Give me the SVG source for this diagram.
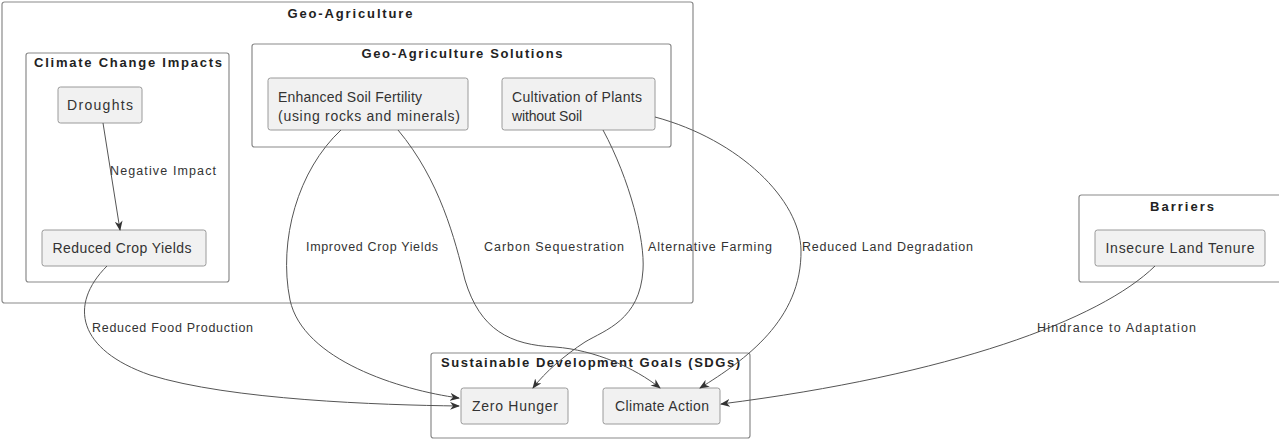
<svg xmlns="http://www.w3.org/2000/svg" width="1279" height="440" viewBox="0 0 1279 440">
<style>
.cl{fill:none;stroke:#8a8a8a;stroke-width:1.2}
.nd{fill:#f1f1f1;stroke:#9a9a9a;stroke-width:1}
.ct{font-family:"Liberation Sans",Arial,sans-serif;font-size:13px;font-weight:bold;fill:#222}
.nt{font-family:"Liberation Sans",Arial,sans-serif;font-size:14px;fill:#333}
.lt{font-family:"Liberation Sans",Arial,sans-serif;font-size:12.5px;fill:#333}
.ed{fill:none;stroke:#555;stroke-width:1}
</style>
<defs>
<marker id="ah" viewBox="0 0 10 8" refX="9" refY="4" markerWidth="10" markerHeight="8" markerUnits="userSpaceOnUse" orient="auto">
<path d="M0,0 L10,4 L0,8 L3,4 z" fill="#333"/>
</marker>
</defs>
<rect width="1279" height="440" fill="#fff"/>

<g id="geo-agriculture">
<rect class="cl" x="2" y="2" width="691" height="301" rx="2.5"/>
<text class="ct" x="350" y="18" text-anchor="middle" textLength="125" lengthAdjust="spacing">Geo-Agriculture</text>
</g>
<g id="climate-change-impacts">
<rect class="cl" x="26" y="53" width="203" height="229" rx="2.5"/>
<text class="ct" x="34" y="67" textLength="188" lengthAdjust="spacing">Climate Change Impacts</text>
</g>
<g id="geo-agriculture-solutions">
<rect class="cl" x="252" y="44" width="419" height="103" rx="2.5"/>
<text class="ct" x="462" y="58" text-anchor="middle" textLength="201" lengthAdjust="spacing">Geo-Agriculture Solutions</text>
</g>
<g id="barriers">
<rect class="cl" x="1079" y="195" width="205" height="87" rx="2.5"/>
<text class="ct" x="1182" y="211" text-anchor="middle" textLength="64" lengthAdjust="spacing">Barriers</text>
</g>
<g id="sdgs">
<rect class="cl" x="431" y="353" width="319" height="85" rx="2.5"/>
<text class="ct" x="441" y="367" textLength="299" lengthAdjust="spacing">Sustainable Development Goals (SDGs)</text>
</g>

<g id="droughts">
<rect class="nd" x="58" y="87" width="84" height="36" rx="2.5"/>
<text class="nt" x="100" y="110" text-anchor="middle" textLength="66" lengthAdjust="spacing">Droughts</text>
</g>
<g id="reduced-crop-yields">
<rect class="nd" x="42" y="230" width="164" height="36" rx="2.5"/>
<text class="nt" x="122" y="253" text-anchor="middle" textLength="139" lengthAdjust="spacing">Reduced Crop Yields</text>
</g>
<g id="enhanced-soil-fertility">
<rect class="nd" x="268" y="78" width="200" height="52" rx="2.5"/>
<text class="nt" x="278" y="102" textLength="144" lengthAdjust="spacing">Enhanced  Soil  Fertility</text>
<text class="nt" x="278" y="121" textLength="182" lengthAdjust="spacing">(using rocks and minerals)</text>
</g>
<g id="cultivation-without-soil">
<rect class="nd" x="502" y="78" width="153" height="52" rx="2.5"/>
<text class="nt" x="512" y="102" textLength="130" lengthAdjust="spacing">Cultivation  of Plants</text>
<text class="nt" x="512" y="121" textLength="70" lengthAdjust="spacing">without Soil</text>
</g>
<g id="insecure-land-tenure">
<rect class="nd" x="1095" y="230" width="170" height="36" rx="2.5"/>
<text class="nt" x="1180" y="253" text-anchor="middle" textLength="149" lengthAdjust="spacing">Insecure Land Tenure</text>
</g>
<g id="zero-hunger">
<rect class="nd" x="461" y="388" width="107" height="36" rx="2.5"/>
<text class="nt" x="515" y="411" text-anchor="middle" textLength="86" lengthAdjust="spacing">Zero Hunger</text>
</g>
<g id="climate-action">
<rect class="nd" x="603" y="388" width="117" height="36" rx="2.5"/>
<text class="nt" x="662" y="411" text-anchor="middle" textLength="94" lengthAdjust="spacing">Climate Action</text>
</g>

<g id="connectors">
<path class="ed" marker-end="url(#ah)" d="M103,123 L120,230"/>
<text class="lt" x="110" y="175" textLength="106" lengthAdjust="spacing">Negative Impact</text>

<path class="ed" marker-end="url(#ah)" d="M107,266 C68,305 78,350 150,375 C230,400 380,405 459,406"/>
<text class="lt" x="92" y="332" textLength="161" lengthAdjust="spacing">Reduced Food Production</text>

<path class="ed" marker-end="url(#ah)" d="M341,130 C298,170 278,240 290,300 C303,360 400,390 459,398"/>
<text class="lt" x="306" y="251" textLength="132" lengthAdjust="spacing">Improved Crop Yields</text>

<path class="ed" marker-end="url(#ah)" d="M398,130 C440,180 455,240 465,280 C480,330 510,345 555,347 C595,350 635,368 660,388"/>
<text class="lt" x="484" y="251" textLength="140" lengthAdjust="spacing">Carbon Sequestration</text>

<path class="ed" marker-end="url(#ah)" d="M603,130 C630,180 645,240 643,270 C640,320 605,330 585,342 C565,355 545,372 533,388"/>
<text class="lt" x="648" y="251" textLength="124" lengthAdjust="spacing">Alternative Farming</text>

<path class="ed" marker-end="url(#ah)" d="M655,117 C740,140 800,200 801,250 C802,320 745,360 700,388"/>
<text class="lt" x="802" y="251" textLength="171" lengthAdjust="spacing">Reduced Land Degradation</text>

<path class="ed" marker-end="url(#ah)" d="M1155,266 C1100,320 950,375 721,404"/>
<text class="lt" x="1037" y="332" textLength="159" lengthAdjust="spacing">Hindrance to Adaptation</text>
</g>
</svg>
